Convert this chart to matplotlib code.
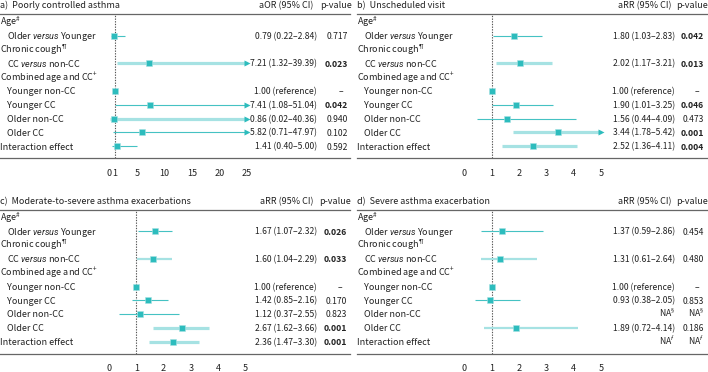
import numpy as np
import matplotlib
matplotlib.use("Agg")
import matplotlib.pyplot as plt
from matplotlib.lines import Line2D

FONT = 'Noto Sans CJK SC'
plt.rcParams['font.family'] = [FONT, 'DejaVu Sans']
plt.rcParams['mathtext.fontset'] = 'custom'
plt.rcParams['mathtext.rm'] = FONT
plt.rcParams['mathtext.it'] = 'Roboto:italic'
plt.rcParams['mathtext.bf'] = FONT + ':bold'
plt.rcParams['mathtext.sf'] = 'Lato'  # CJK font has full-width ¶ and §

# ---- data ----
row_labels = ["Ag$\\mathrm{e}^{\\#}$", "Older $\\mathit{versus}$ Younger",
              "Chronic coug$\\mathrm{h}^{\\mathsf{¶}}$", "CC $\\mathit{versus}$ non-CC",
              "Combined age and C$\\mathrm{C}^{+}$",
              "Younger non-CC", "Younger CC", "Older non-CC", "Older CC",
              "Interaction effect"]
indent = [0, 1, 0, 1, 0, 1, 1, 1, 1, 0]
data_rows = [1, 3, 5, 6, 7, 8, 9]

a_est = [0.79, 7.21, 1.00, 7.41, 0.86, 5.82, 1.41]
a_lo = [0.22, 1.32, np.nan, 1.08, 0.02, 0.71, 0.40]
a_hi = [2.84, 39.39, np.nan, 51.04, 40.36, 47.97, 5.00]
a_ci = ["0.79 (0.22–2.84)", "7.21 (1.32–39.39)", "1.00 (reference)", "7.41 (1.08–51.04)",
        "0.86 (0.02–40.36)", "5.82 (0.71–47.97)", "1.41 (0.40–5.00)"]
a_p = ["0.717", "0.023", "–", "0.042", "0.940", "0.102", "0.592"]

b_est = [1.80, 2.02, 1.00, 1.90, 1.56, 3.44, 2.52]
b_lo = [1.03, 1.17, np.nan, 1.01, 0.44, 1.78, 1.36]
b_hi = [2.83, 3.21, np.nan, 3.25, 4.09, 5.42, 4.11]
b_ci = ["1.80 (1.03–2.83)", "2.02 (1.17–3.21)", "1.00 (reference)", "1.90 (1.01–3.25)",
        "1.56 (0.44–4.09)", "3.44 (1.78–5.42)", "2.52 (1.36–4.11)"]
b_p = ["0.042", "0.013", "–", "0.046", "0.473", "0.001", "0.004"]

c_est = [1.67, 1.60, 1.00, 1.42, 1.12, 2.67, 2.36]
c_lo = [1.07, 1.04, np.nan, 0.85, 0.37, 1.62, 1.47]
c_hi = [2.32, 2.29, np.nan, 2.16, 2.55, 3.66, 3.30]
c_ci = ["1.67 (1.07–2.32)", "1.60 (1.04–2.29)", "1.00 (reference)", "1.42 (0.85–2.16)",
        "1.12 (0.37–2.55)", "2.67 (1.62–3.66)", "2.36 (1.47–3.30)"]
c_p = ["0.026", "0.033", "–", "0.170", "0.823", "0.001", "0.001"]

d_est = [1.37, 1.31, 1.00, 0.93, np.nan, 1.89, np.nan]
d_lo = [0.59, 0.61, np.nan, 0.38, np.nan, 0.72, np.nan]
d_hi = [2.86, 2.64, np.nan, 2.05, np.nan, 4.14, np.nan]
d_ci = ["1.37 (0.59–2.86)", "1.31 (0.61–2.64)", "1.00 (reference)", "0.93 (0.38–2.05)",
        "N$\\mathrm{A}^{\\mathsf{§}}$", "1.89 (0.72–4.14)", "N$\\mathrm{A}^{f}$"]
d_p = ["0.454", "0.480", "–", "0.853", "N$\\mathrm{A}^{\\mathsf{§}}$", "0.186",
       "N$\\mathrm{A}^{f}$"]

# line style of each CI: t = thin dark, m = medium light, w = wide light
a_sty = ["t", "w", "", "t", "w", "t", "t"]
b_sty = ["t", "w", "", "t", "t", "w", "w"]
c_sty = ["t", "m", "", "t", "t", "w", "w"]
d_sty = ["t", "m", "", "t", "", "m", ""]

W, H = 708, 372
FS = 6.5
FS_NUM = 6.2
TXT = '#222222'
MARK = '#2dbcbd'
sty_map = {"t": ('#45c2c3', 0.8), "m": ('#a6e2e3', 1.6), "w": ('#a6e2e3', 2.3)}

fig = plt.figure(figsize=(W / 100, H / 100), dpi=100)


def fx(x):
    return x / W


def fy(y):
    return 1 - y / H


def T(x, y, s, **kw):
    # y is the visual middle of the row, text sits on a baseline below it
    kw.setdefault('fontsize', FS)
    kw.setdefault('color', TXT)
    fig.text(fx(x), fy(y + 3.3), s, va='baseline', **kw)


def panel(left, right, top, title, head, est, lo, hi, ci, pv, sty,
          zero, ppu, xmax, ticks, ci_right, p_right):
    line_y = top + 9
    row0 = top + 17
    step = 13.8
    bot_y = row0 + 9 * step + 12.3

    T(left, top, title)
    T(ci_right - 4, top, head, ha='right')
    T(p_right + 4, top, "p-value", ha='right')
    for yy in (line_y, bot_y):
        fig.add_artist(Line2D([fx(left), fx(right)], [fy(yy), fy(yy)],
                              color='#666666', lw=0.9))

    for i, lab in enumerate(row_labels):
        T(left + 7 * indent[i], row0 + i * step, lab)

    for k, r in enumerate(data_rows):
        yy = row0 + r * step
        T(ci_right, yy, ci[k], ha='right', fontsize=FS_NUM)
        if pv[k] == "–":
            T(p_right - 7, yy, pv[k], ha='center', fontsize=FS_NUM)
        else:
            bold = pv[k][0] == '0' and float(pv[k]) < 0.05
            T(p_right, yy, pv[k], ha='right', fontsize=FS_NUM,
              fontweight='bold' if bold else 'normal')

    x0 = zero
    x1 = zero + ppu * xmax
    ax = fig.add_axes([fx(x0), fy(bot_y), fx(x1) - fx(x0), (bot_y - line_y) / H])
    ax.set_xlim(0, xmax)
    ax.set_ylim((bot_y - row0) / step, (line_y - row0) / step)
    for s in ax.spines.values():
        s.set_visible(False)
    ax.set_yticks([])
    ax.set_xticks(ticks)
    ax.tick_params(axis='x', length=0, pad=7.5, labelsize=FS, labelcolor=TXT)
    ax.patch.set_alpha(0)
    ax.axvline(1, ls=(0, (1.2, 1.2)), color='#555555', lw=0.8, clip_on=False)

    for k, r in enumerate(data_rows):
        if np.isnan(est[k]):
            continue
        if sty[k]:
            col, lw = sty_map[sty[k]]
            h = min(hi[k], xmax)
            ax.plot([lo[k], h], [r, r], color=col, lw=lw, solid_capstyle='butt',
                    clip_on=False, zorder=2)
            if hi[k] > xmax:
                ax.plot([xmax], [r], marker='>', ms=4.2, color=MARK, mec='none',
                        clip_on=False, zorder=3)
        ax.plot([est[k]], [r], marker='s', ms=3.8, color=MARK, mec='#a6e2e3',
                mew=0.4, clip_on=False, zorder=4)
    return ax


panel(0, 350, 5, "a)  Poorly controlled asthma", "aOR (95% CI)",
      a_est, a_lo, a_hi, a_ci, a_p, a_sty,
      109.5, 5.5, 25, [0, 1, 5, 10, 15, 20, 25], 317, 348)
panel(357, 708, 5, "b)  Unscheduled visit", "aRR (95% CI)",
      b_est, b_lo, b_hi, b_ci, b_p, b_sty,
      464.5, 27.3, 5, [0, 1, 2, 3, 4, 5], 675, 704)
panel(0, 350, 200.5, "c)  Moderate-to-severe asthma exacerbations", "aRR (95% CI)",
      c_est, c_lo, c_hi, c_ci, c_p, c_sty,
      109, 27.3, 5, [0, 1, 2, 3, 4, 5], 317, 347)
panel(357, 708, 200.5, "d)  Severe asthma exacerbation", "aRR (95% CI)",
      d_est, d_lo, d_hi, d_ci, d_p, d_sty,
      464.5, 27.3, 5, [0, 1, 2, 3, 4, 5], 675, 704)

fig.savefig("out.png", dpi=100)
